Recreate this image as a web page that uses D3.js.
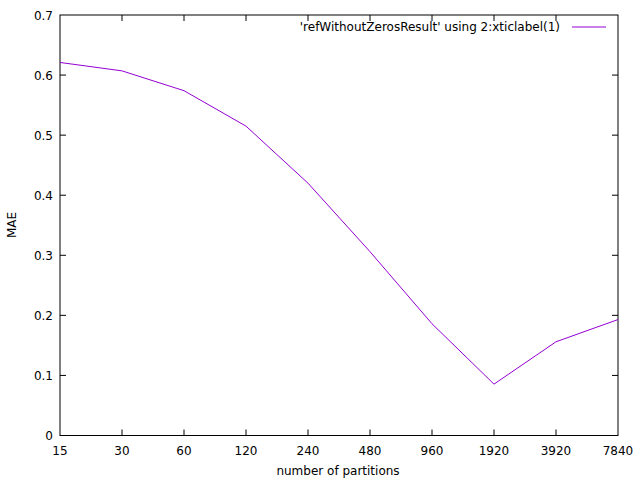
<!DOCTYPE html>
<html><head><meta charset="utf-8">
<script src="https://cdn.jsdelivr.net/npm/d3@7"></script>
<style>body{margin:0;background:#fff}svg{display:block}text{font-family:"DejaVu Sans",sans-serif;font-size:12px;fill:#000}</style>
</head><body>
<svg id="c" width="640" height="480"></svg>
<script>
const categories = ["15","30","60","120","240","480","960","1920","3920","7840"];
const maeValues = [0.621, 0.607, 0.574, 0.515, 0.420, 0.306, 0.186, 0.0855, 0.156, 0.193];
const yTicks = [0, 0.1, 0.2, 0.3, 0.4, 0.5, 0.6, 0.7];
const seriesLabel = "'refWithoutZerosResult' using 2:xticlabel(1)";

const svg = d3.select("#c");
const L = 60, R = 618, T = 15, B = 435.5;
const x = d3.scalePoint().domain(categories).range([L, R]);
const y = d3.scaleLinear().domain([0, 0.7]).range([B, T]);
const fmt = d => d === 0 ? "0" : d3.format(".1f")(d);
const g = svg.append("g");

// ticks
yTicks.forEach(t => {
  if (t > 0 && t < 0.7) {
    g.append("line").attr("x1", L).attr("x2", L + 6).attr("y1", y(t)).attr("y2", y(t)).attr("stroke", "#000");
    g.append("line").attr("x1", R).attr("x2", R - 6).attr("y1", y(t)).attr("y2", y(t)).attr("stroke", "#000");
  }
  g.append("text").attr("x", L - 7).attr("y", y(t) + 4.5).attr("text-anchor", "end").text(fmt(t));
});
categories.forEach((c, i) => {
  if (i > 0 && i < categories.length - 1) {
    g.append("line").attr("x1", x(c)).attr("x2", x(c)).attr("y1", B).attr("y2", B - 6).attr("stroke", "#000");
    g.append("line").attr("x1", x(c)).attr("x2", x(c)).attr("y1", T).attr("y2", T + 6).attr("stroke", "#000");
  }
  g.append("text").attr("x", x(c)).attr("y", B + 19).attr("text-anchor", "middle").text(c);
});

// frame
g.append("rect").attr("x", L).attr("y", T).attr("width", R - L).attr("height", B - T)
  .attr("fill", "none").attr("stroke", "#000").attr("stroke-width", 1);

// line
const line = d3.line().x((d, i) => x(categories[i])).y(d => y(d));
g.append("path").datum(maeValues).attr("d", line).attr("fill", "none").attr("stroke", "#9400d3").attr("stroke-width", 1);

// legend
g.append("text").attr("x", 560).attr("y", 31).attr("text-anchor", "end").text(seriesLabel);
g.append("line").attr("x1", 572).attr("x2", 606).attr("y1", 27).attr("y2", 27).attr("stroke", "#9400d3");

// axis labels
g.append("text").attr("x", 338).attr("y", 475).attr("text-anchor", "middle").text("number of partitions");
g.append("text").attr("transform", "translate(16,225) rotate(-90)").attr("text-anchor", "middle").text("MAE");
</script>
</body></html>
